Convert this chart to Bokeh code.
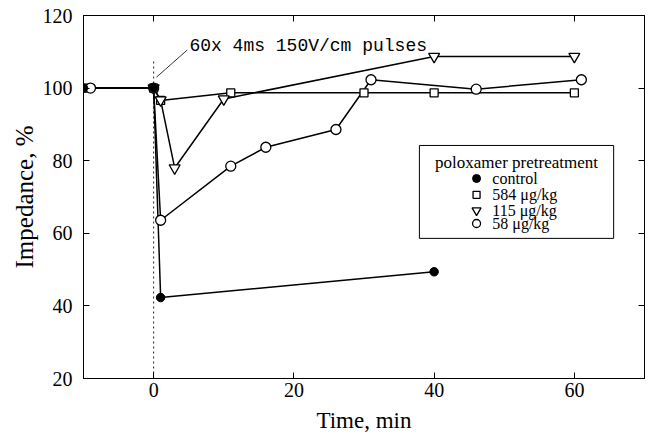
from bokeh.plotting import figure
from bokeh.models import Range1d, LinearAxis, FixedTicker, Label, BoxAnnotation
from bokeh.embed import file_html
from bokeh.resources import INLINE
from bokeh.core.properties import value

# ---- data ----
control_x = [-10, 0, 1, 40]
control_y = [100, 100, 42.3, 49.4]
d584_x = [-10, 0, 1, 11, 30, 40, 60]
d584_y = [100, 100, 96.6, 98.7, 98.7, 98.7, 98.7]
d115_x = [0, 1, 3, 10, 40, 60]
d115_y = [100, 96.7, 78.0, 97.0, 108.7, 108.7]
d58_x = [-9, 0, 1, 11, 16, 26, 31, 46, 61]
d58_y = [100, 100, 63.6, 78.5, 83.7, 88.6, 102.3, 99.7, 102.3]
x_ticks = [0, 20, 40, 60]
y_ticks = [20, 40, 60, 80, 100, 120]
legend_labels = ["control", "584 \u03bcg/kg", "115 \u03bcg/kg", "58 \u03bcg/kg"]
legend_title = "poloxamer pretreatment"
annotation_text = "60x 4ms 150V/cm pulses"
pulse_time = 0
x_title = "Time, min"
y_title = "Impedance, %"

SERIF = "Liberation Serif"

p = figure(width=646, height=438, x_range=Range1d(-10, 70), y_range=Range1d(20, 120),
           output_backend="svg", toolbar_location=None,
           min_border_left=83, min_border_right=2, min_border_top=15, min_border_bottom=60,
           x_axis_label=x_title, y_axis_label=y_title)
p.xgrid.visible = False
p.ygrid.visible = False
p.outline_line_color = "black"
p.outline_line_width = 1
p.background_fill_color = "white"
p.border_fill_color = "white"


def style_axis(ax, ticks, show_labels=True):
    ax.ticker = FixedTicker(ticks=ticks)
    ax.major_tick_in = 6
    ax.major_tick_out = 0
    ax.minor_tick_in = 0
    ax.minor_tick_out = 0
    ax.axis_line_color = "black"
    ax.major_tick_line_color = "black"
    ax.major_label_text_font = SERIF
    ax.axis_label_text_font = SERIF
    ax.axis_label_text_font_style = "normal"
    ax.axis_label_text_color = "black"
    if show_labels:
        ax.major_label_text_font_size = "20px"
        ax.major_label_text_color = "black"
    else:
        ax.major_label_text_font_size = "0px"
        ax.major_label_text_color = None
        ax.major_label_standoff = 0


style_axis(p.xaxis[0], x_ticks)
style_axis(p.yaxis[0], y_ticks)
p.xaxis[0].major_label_standoff = 4
p.xaxis[0].axis_label_standoff = 8
p.xaxis[0].axis_label_text_font_size = "23px"
p.yaxis[0].major_label_standoff = 11
p.yaxis[0].axis_label_standoff = 2
p.yaxis[0].axis_label_text_font_size = "25px"

top_ax = LinearAxis()
style_axis(top_ax, x_ticks, show_labels=False)
p.add_layout(top_ax, "above")
right_ax = LinearAxis()
style_axis(right_ax, y_ticks, show_labels=False)
p.add_layout(right_ax, "right")

# pulse marker line and annotation
p.line([pulse_time, pulse_time], [20, 107.5], line_color="#222222", line_width=1,
       line_dash="2 3")
p.line([pulse_time + 0.4, pulse_time + 4.8], [103, 110.5], line_color="black", line_width=0.8)
p.add_layout(Label(x=pulse_time + 5.1, y=111.7, text=annotation_text,
                   text_font="Liberation Mono", text_font_size="18px",
                   text_baseline="middle", text_color="black"))

# legend frame (drawn beneath glyphs)
p.add_layout(BoxAnnotation(left=37.9, right=65.6, top=84.2, bottom=58.6,
                           fill_color="white", fill_alpha=1.0,
                           line_color="black", line_width=1, line_alpha=1.0,
                           level="underlay"))

# series lines
LW = 1.5
for xs, ys in [(d584_x, d584_y), (d115_x, d115_y), (d58_x, d58_y), (control_x, control_y)]:
    p.line(xs, ys, line_color="black", line_width=LW)

styles = [
    dict(marker="circle", fill_color="black", line_color="black", line_width=1),
    dict(marker="square", fill_color="white", line_color="black", line_width=1.3),
    dict(marker="inverted_triangle", fill_color="white", line_color="black", line_width=1.3),
    dict(marker="circle", fill_color="white", line_color="black", line_width=1.3),
]
plot_sizes = [8.5, 8, 11, 10]
key_sizes = [8, 7, 9, 8]

p.scatter(d584_x, d584_y, size=plot_sizes[1], **styles[1])
p.scatter(d115_x, d115_y, size=plot_sizes[2], **styles[2])
p.scatter(d58_x, d58_y, size=plot_sizes[3], **styles[3])
p.scatter(control_x, control_y, size=plot_sizes[0], **styles[0])

# legend entries (hand-placed key)
key_x = 46.05
text_x = 48.3
key_y = [75.1, 70.6, 66.3, 62.7]
for st, sz, ky in zip(styles, key_sizes, key_y):
    p.scatter([key_x], [ky], size=sz, **st)
p.text(x=[text_x] * 4, y=key_y, text=legend_labels, text_font=value(SERIF),
       text_font_size="16px", text_baseline="middle", text_align="left",
       text_color="black")
p.add_layout(Label(x=51.75, y=79.5, text=legend_title, text_font=SERIF,
                   text_font_size="17px", text_align="center", text_baseline="middle",
                   text_color="black"))

open("out.html", "w").write(file_html(p, INLINE))
